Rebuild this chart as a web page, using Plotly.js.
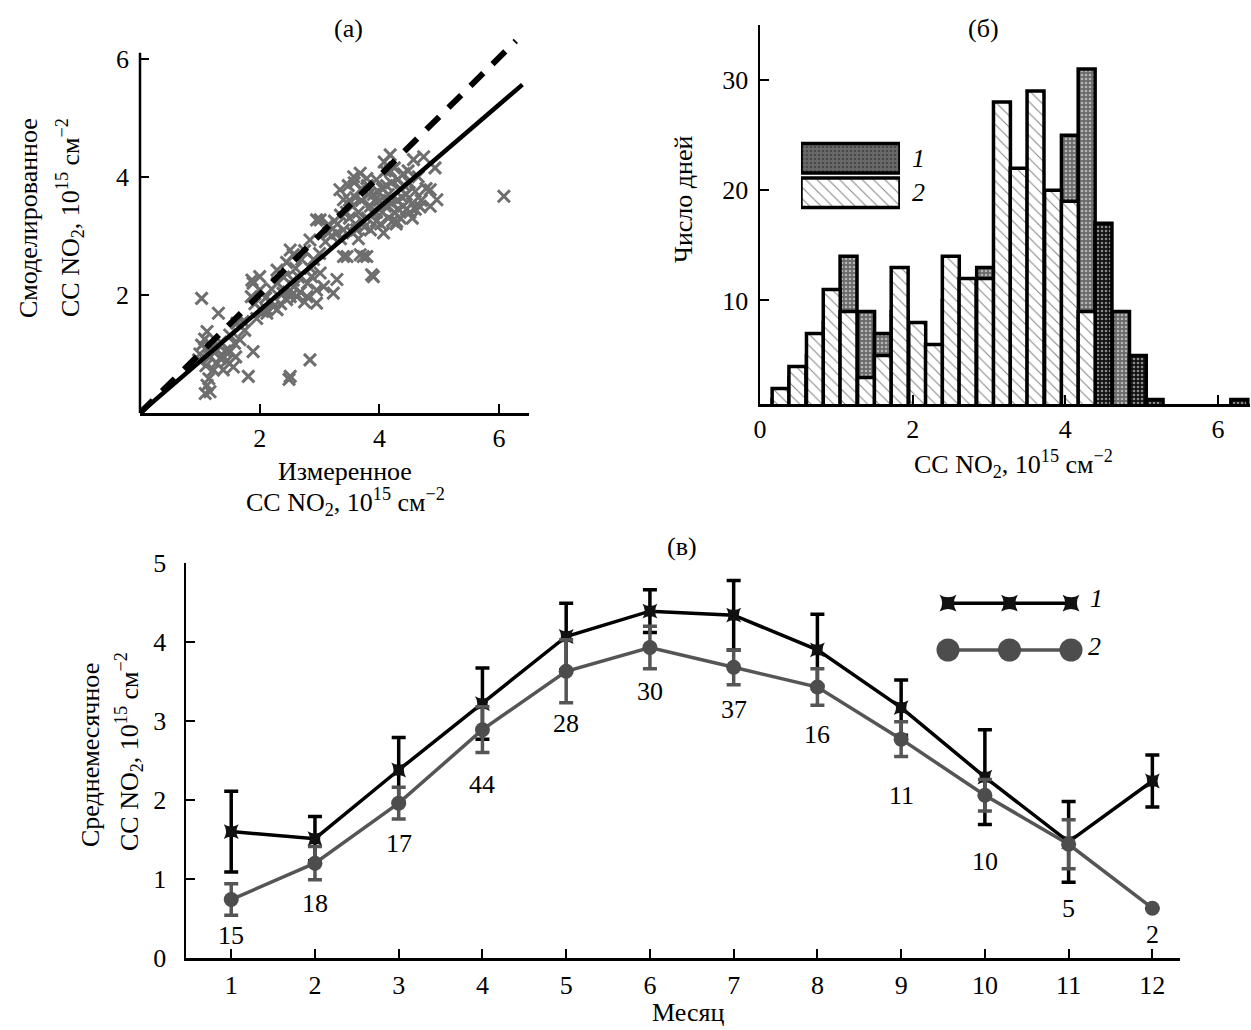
<!DOCTYPE html>
<html>
<head>
<meta charset="utf-8">
<script src="https://cdn.plot.ly/plotly-3.0.1.min.js"></script>
<style>html,body{margin:0;padding:0;background:#fff;}#chart{width:1251px;height:1030px;}</style>
</head>
<body>
<div id="chart"></div>
<script>
// ---------- Panel (a): scatter, measured vs modelled ----------
const measuredX = [
  1.03,1.31,1.12,1.03,1.17,1.34,1.50,1.67,1.89,1.81,1.12,1.17,1.09,1.23,1.39,1.56,1.62,1.50,1.20,1.28,
  1.45,1.10,1.00,1.35,1.42,1.58,1.72,1.25,1.15,1.40,1.60,1.75,0.98,1.08,
  1.89,2.00,1.86,2.12,2.29,2.45,2.51,2.49,2.84,2.62,2.75,2.95,2.87,2.56,1.87,2.00,2.29,2.51,2.56,2.84,
  2.95,2.79,2.95,2.51,2.57,2.39,2.23,2.12,1.95,2.05,2.18,2.35,2.45,2.60,2.70,2.40,2.20,2.65,2.90,2.75,
  1.92,2.10,2.30,2.48,2.68,2.85,3.00,2.80,
  3.15,3.29,3.34,3.40,3.57,3.68,3.79,3.73,3.90,3.46,3.23,3.07,3.01,3.68,3.79,3.87,4.07,4.29,4.51,4.68,
  3.40,3.29,3.01,4.96,4.85,4.93,4.74,4.18,4.57,6.08,
  3.10,3.20,3.30,3.40,3.50,3.60,3.55,3.65,3.70,3.80,3.85,3.90,3.95,4.00,4.05,4.10,4.15,4.20,4.25,4.30,
  4.35,4.40,4.45,4.50,4.55,4.60,4.65,4.70,4.40,4.25,4.10,3.95,3.80,3.70,3.60,3.50,3.45,3.35,3.25,3.15,
  3.35,3.55,3.75,3.95,4.15,4.35,4.55,4.05,3.85,3.65,4.20,4.30,4.45,4.12,3.92,4.02,4.28,4.38,4.48,4.60,
  4.78,4.85,3.48,3.58,3.62,3.72,3.82,4.08,4.18,4.22,3.88,3.98,4.32,4.42
];
const modelledY = [
  1.94,1.69,1.38,1.15,0.95,0.93,1.04,1.24,1.04,0.62,0.47,0.36,0.33,0.73,0.73,0.78,1.52,1.32,1.10,0.85,
  0.88,0.80,1.00,1.20,1.05,1.18,1.55,1.02,0.58,0.95,0.95,1.40,0.90,1.25,
  2.20,2.08,1.97,1.75,1.75,1.92,0.62,0.57,0.90,1.97,1.88,2.08,2.31,2.25,2.25,2.31,2.42,2.76,2.68,2.93,
  3.27,1.97,1.86,1.97,2.14,2.03,1.80,1.69,1.60,1.72,1.90,1.85,2.55,2.45,2.60,2.30,2.10,2.30,2.60,2.75,
  1.85,1.95,2.20,2.05,2.05,2.45,2.70,2.20,
  3.19,3.05,3.78,3.61,4.00,4.06,3.97,2.65,2.31,2.65,2.03,2.14,3.27,2.68,2.65,2.34,3.05,3.24,3.40,3.49,
  2.65,2.26,2.37,3.61,3.78,4.15,4.34,4.37,4.29,3.67,
  2.90,3.00,3.20,3.10,3.30,3.20,3.50,3.40,3.60,3.30,3.50,3.70,3.40,3.60,3.80,3.50,3.70,3.90,3.40,3.60,
  3.80,3.50,3.70,3.90,3.55,3.75,4.00,3.60,4.05,4.15,4.10,3.95,3.85,3.80,3.65,3.60,3.40,3.35,3.25,3.05,
  2.95,3.05,3.15,3.25,3.30,3.30,3.30,3.40,3.10,2.95,3.55,3.95,3.45,3.85,3.60,3.20,3.20,3.65,4.10,3.45,
  3.80,3.50,3.85,3.90,3.10,3.25,3.70,4.25,4.10,3.25,3.40,3.75,3.45,3.85
];
const fitX = [0, 6.39];
const fitY = [0, 5.56];
const oneToOneX = [0, 6.28];
const oneToOneY = [0, 6.3];

// ---------- Panel (б): histograms ----------
const binCenters = [0.27,0.49,0.72,0.94,1.16,1.39,1.61,1.83,2.06,2.28,2.50,2.72,2.95,3.17,
                    3.39,3.61,3.84,4.06,4.28,4.50,4.73,4.95,5.17,5.39,5.61,5.84,6.06,6.28];
const hist1Counts = [1,3,5,8,14,9,7,9,6,5,10,9,13,12,11,12,10,25,31,17,9,5,1,0,0,0,0,1];
const hist2Counts = [2,4,7,11,9,3,5,13,8,6,14,12,12,28,22,29,20,19,9,0,0,0,0,0,0,0,0,0];
const binWidth = 0.222;

// ---------- Panel (в): monthly means ----------
const months = [1,2,3,4,5,6,7,8,9,10,11,12];
const mean1 = [1.60,1.51,2.38,3.22,4.07,4.39,4.34,3.90,3.17,2.29,1.47,2.24];
const err1  = [0.51,0.28,0.41,0.45,0.42,0.27,0.44,0.45,0.35,0.60,0.51,0.33];
const mean2 = [0.74,1.20,1.96,2.89,3.63,3.93,3.68,3.43,2.77,2.06,1.44,0.63];
const err2  = [0.20,0.21,0.20,0.29,0.40,0.27,0.22,0.23,0.22,0.20,0.31,0];
const daysCount = [15,18,17,44,28,30,37,16,11,10,5,2];

// ---------- styles ----------
const W = 1251, H = 1030;
const fx = p => p / W;
const fy = p => 1 - p / H;
const FONT = "'Liberation Serif', 'Times New Roman', serif";
const FS = 26;
const hist1Shade = ['#6a6a6a','#6a6a6a','#6a6a6a','#6a6a6a','#6a6a6a','#6a6a6a','#6a6a6a','#6a6a6a','#6a6a6a','#6a6a6a',
                    '#6a6a6a','#6a6a6a','#6a6a6a','#6a6a6a','#6a6a6a','#6a6a6a','#6a6a6a','#6a6a6a','#6a6a6a','#111111',
                    '#6a6a6a','#111111','#111111','#111111','#111111','#111111','#111111','#111111'];
const labelShift = [36,40,40,55,52,44,42,47,56,66,64,26];

const axisBase = {
  showline: true, linewidth: 2.5, linecolor: '#000', showgrid: false, zeroline: false,
  ticks: 'inside', ticklen: 9, tickwidth: 2, tickcolor: '#000',
  tickfont: {family: FONT, size: FS, color: '#000'}, fixedrange: true
};

const traces = [
  // (a)
  {type: 'scatter', mode: 'markers', x: measuredX, y: modelledY, xaxis: 'x', yaxis: 'y',
   marker: {symbol: 'x-thin-open', size: 12, color: '#6e6e6e', line: {width: 3, color: '#6e6e6e'}},
   showlegend: false, cliponaxis: false},
  {type: 'scatter', mode: 'lines', x: oneToOneX, y: oneToOneY, xaxis: 'x', yaxis: 'y',
   line: {color: '#000', width: 6, dash: '18px,13px'}, showlegend: false},
  {type: 'scatter', mode: 'lines', x: fitX, y: fitY, xaxis: 'x', yaxis: 'y',
   line: {color: '#000', width: 4.5}, showlegend: false},
  // (б)
  {type: 'bar', x: binCenters, y: hist1Counts, width: binWidth, xaxis: 'x2', yaxis: 'y2', base: 0,
   marker: {color: hist1Shade, line: {color: '#000', width: 3.5},
            pattern: {shape: '.', bgcolor: hist1Shade, fgcolor: '#2a2a2a', size: 4, solidity: 0.35, fillmode: 'overlay'}},
   showlegend: false},
  {type: 'bar', x: binCenters, y: hist2Counts, width: binWidth, xaxis: 'x2', yaxis: 'y2', base: 0,
   marker: {color: '#fff', line: {color: '#000', width: 3.5},
            pattern: {shape: '\\', bgcolor: '#fff', fgcolor: '#000', size: 8, solidity: 0.12, fillmode: 'overlay'}},
   showlegend: false},
  // legend boxes for (б)
  {type: 'bar', orientation: 'h', x: [1], y: [1], width: 0.86, xaxis: 'x4', yaxis: 'y4',
   marker: {color: '#6a6a6a', line: {color: '#000', width: 3.5},
            pattern: {shape: '.', bgcolor: '#6a6a6a', fgcolor: '#2a2a2a', size: 4, solidity: 0.35, fillmode: 'overlay'}},
   showlegend: false, hoverinfo: 'skip'},
  {type: 'bar', orientation: 'h', x: [1], y: [0], width: 0.86, xaxis: 'x4', yaxis: 'y4',
   marker: {color: '#fff', line: {color: '#000', width: 3.5},
            pattern: {shape: '\\', bgcolor: '#fff', fgcolor: '#000', size: 8, solidity: 0.12, fillmode: 'overlay'}},
   showlegend: false, hoverinfo: 'skip'},
  // (в)
  {type: 'scatter', mode: 'lines+markers', x: months, y: mean1, xaxis: 'x3', yaxis: 'y3',
   line: {color: '#000', width: 3.5},
   marker: {symbol: 'star-diamond', size: 15, color: '#111', angle: 45, line: {width: 0}},
   error_y: {type: 'data', array: err1, symmetric: true, color: '#000', thickness: 3.5, width: 7},
   showlegend: false, cliponaxis: false},
  {type: 'scatter', mode: 'lines+markers', x: months, y: mean2, xaxis: 'x3', yaxis: 'y3',
   line: {color: '#555', width: 3.5},
   marker: {symbol: 'circle', size: 15, color: '#4d4d4d', line: {width: 0}},
   error_y: {type: 'data', array: err2, symmetric: true, color: '#555', thickness: 3.5, width: 7},
   showlegend: false, cliponaxis: false},
  // legend samples for (в)
  {type: 'scatter', mode: 'lines+markers', x: [0, 0.5, 1], y: [0.88, 0.88, 0.88], xaxis: 'x5', yaxis: 'y5',
   line: {color: '#000', width: 3.5},
   marker: {symbol: 'star-diamond', size: 17, color: '#111', angle: 45},
   showlegend: false, cliponaxis: false, hoverinfo: 'skip'},
  {type: 'scatter', mode: 'lines+markers', x: [0, 0.5, 1], y: [0.1, 0.1, 0.1], xaxis: 'x5', yaxis: 'y5',
   line: {color: '#555', width: 3.5},
   marker: {symbol: 'circle', size: 23, color: '#4d4d4d'},
   showlegend: false, cliponaxis: false, hoverinfo: 'skip'}
];

const ann = (text, x, y, opts) => Object.assign({
  text: text, xref: 'paper', yref: 'paper', x: fx(x), y: fy(y), showarrow: false,
  xanchor: 'center', yanchor: 'middle', font: {family: FONT, size: FS, color: '#000'}
}, opts || {});

const unit = 'CC NO<sub>2</sub>, 10<sup>15</sup> см<sup>−2</sup>';
const annotations = [
  ann('(a)', 348, 28),
  ann('(б)', 983, 28),
  ann('(в)', 682, 546),
  ann('Смоделированное', 28, 218, {textangle: -90}),
  ann(unit, 70, 218, {textangle: -90}),
  ann('Измеренное', 345, 471),
  ann(unit, 345, 502),
  ann('Число дней', 684, 199, {textangle: -90}),
  ann(unit, 1013, 464),
  ann('<i>1</i>', 919, 158),
  ann('<i>2</i>', 919, 192),
  ann('Среднемесячное', 90, 755, {textangle: -90}),
  ann(unit, 129, 752, {textangle: -90}),
  ann('Месяц', 688, 1012),
  ann('<i>1</i>', 1096, 598),
  ann('<i>2</i>', 1094, 646)
];
months.forEach((m, i) => {
  annotations.push({
    text: String(daysCount[i]), xref: 'x3', yref: 'y3', x: m, y: mean2[i], yshift: -labelShift[i],
    showarrow: false, xanchor: 'center', yanchor: 'middle',
    font: {family: FONT, size: FS, color: '#000'}
  });
});

const layout = {
  width: W, height: H, margin: {l: 0, r: 0, t: 0, b: 0},
  paper_bgcolor: '#fff', plot_bgcolor: 'rgba(0,0,0,0)',
  showlegend: false, barmode: 'overlay', bargap: 0,
  font: {family: FONT, size: FS, color: '#000'},
  xaxis: Object.assign({}, axisBase, {domain: [fx(140), fx(529)], range: [0, 6.5], anchor: 'y',
    tickvals: [2, 4, 6], ticklabelstandoff: 0}),
  yaxis: Object.assign({}, axisBase, {domain: [fy(413), fy(38)], range: [0, 6.35], anchor: 'x',
    tickvals: [2, 4, 6], ticklabelstandoff: 10, showline: false}),
  xaxis2: Object.assign({}, axisBase, {domain: [fx(760), fx(1250)], range: [0, 6.42], anchor: 'y2',
    tickvals: [0, 2, 4, 6], ticklabelstandoff: 0}),
  yaxis2: Object.assign({}, axisBase, {domain: [fy(404), fy(25)], range: [0.6, 35], anchor: 'x2',
    tickvals: [10, 20, 30], ticklabelstandoff: 4}),
  xaxis3: Object.assign({}, axisBase, {domain: [fx(186), fx(1180)], range: [0.46, 12.33], anchor: 'y3',
    tickvals: months, ticklabelstandoff: 2}),
  yaxis3: Object.assign({}, axisBase, {domain: [fy(958), fy(563)], range: [0, 5], anchor: 'x3',
    tickvals: [0, 1, 2, 3, 4, 5], ticklabelstandoff: 12}),
  xaxis4: {domain: [fx(801), fx(900)], range: [0, 1], anchor: 'y4', visible: false, fixedrange: true},
  yaxis4: {domain: [fy(210), fy(141)], range: [-0.5, 1.5], anchor: 'x4', visible: false, fixedrange: true},
  xaxis5: {domain: [fx(948), fx(1071)], range: [0, 1], anchor: 'y5', visible: false, fixedrange: true},
  yaxis5: {domain: [fy(656), fy(596)], range: [0, 1], anchor: 'x5', visible: false, fixedrange: true},
  shapes: [
    {type: 'line', xref: 'x domain', yref: 'y', x0: 0, x1: 0, y0: 0, y1: 6.1,
     line: {color: '#000', width: 2.5}}
  ],
  annotations: annotations
};

Plotly.newPlot('chart', traces, layout, {displayModeBar: false, staticPlot: true});
</script>
</body>
</html>
